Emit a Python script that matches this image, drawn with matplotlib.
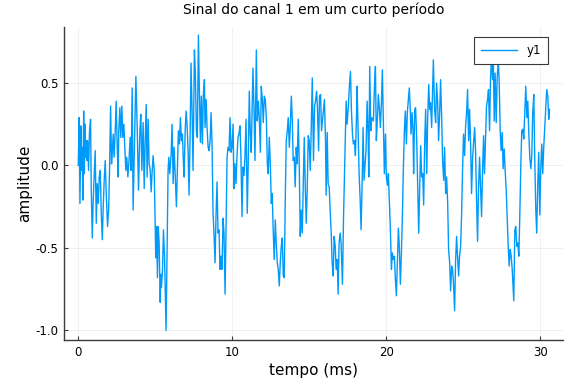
import matplotlib
matplotlib.use("Agg")
import matplotlib.pyplot as plt

# time (ms) and amplitude values
tempo = [
    0.00, 0.06, 0.11, 0.17, 0.22, 0.26, 0.30, 0.35, 0.39, 0.43, 0.48, 0.52, 0.56, 0.60, 0.67, 0.73, 0.80, 0.84, 0.91, 0.97,
    1.04, 1.10, 1.17, 1.23, 1.30, 1.36, 1.43, 1.49, 1.56, 1.62, 1.68, 1.75, 1.81, 1.90, 1.97, 2.03, 2.10, 2.16, 2.20, 2.27,
    2.33, 2.40, 2.46, 2.53, 2.59, 2.63, 2.70, 2.76, 2.83, 2.89, 2.96, 3.02, 3.09, 3.15, 3.22, 3.28, 3.37, 3.43, 3.50, 3.56,
    3.74, 3.83, 3.91, 4.00, 4.06, 4.13, 4.21, 4.28, 4.34, 4.41, 4.47, 4.54, 4.60, 4.67, 4.73, 4.80, 4.86, 4.93, 4.99, 5.03,
    5.08, 5.14, 5.19, 5.25, 5.32, 5.36, 5.40, 5.47, 5.53, 5.60, 5.70, 5.77, 5.83, 5.88, 5.94, 6.03, 6.09, 6.16, 6.22, 6.29,
    6.37, 6.44, 6.50, 6.57, 6.63, 6.70, 6.76, 6.83, 6.87, 6.94, 7.00, 7.06, 7.13, 7.19, 7.26, 7.32, 7.39, 7.45,
    7.54, 7.60, 7.67, 7.73, 7.80, 7.86, 7.93, 7.99, 8.06, 8.12, 8.19, 8.23, 8.30, 8.36, 8.43, 8.49, 8.56, 8.62, 8.68, 8.75,
    8.81, 8.88, 8.94, 9.01, 9.07, 9.14, 9.20, 9.27, 9.33, 9.40, 9.46, 9.53, 9.59, 9.66, 9.72, 9.79, 9.85, 9.92, 9.98, 10.05,
    10.11, 10.17, 10.24, 10.30, 10.37, 10.43, 10.50, 10.56, 10.63, 10.69, 10.76, 10.82, 10.89, 10.97, 11.04, 11.10, 11.17, 11.23,
    11.34, 11.41, 11.47, 11.56, 11.62, 11.69, 11.75, 11.82, 11.88, 11.95, 12.01, 12.08, 12.14, 12.21, 12.27, 12.33, 12.40, 12.46,
    12.53, 12.59, 12.66, 12.72, 12.79, 12.85, 12.92, 12.98, 13.05, 13.11, 13.18, 13.24, 13.31, 13.37, 13.44, 13.50, 13.57, 13.63,
    13.70, 13.76, 13.83, 13.89, 13.95, 14.02, 14.08, 14.15, 14.21, 14.28, 14.34, 14.41, 14.47, 14.54, 14.60, 14.67, 14.73, 14.80,
    14.86, 14.93, 14.99, 15.06, 15.12, 15.19,
    15.27, 15.34, 15.40, 15.47, 15.53, 15.60, 15.66, 15.73, 15.79, 15.85, 15.92, 15.98, 16.05, 16.09, 16.16, 16.22, 16.29, 16.35,
    16.42, 16.48, 16.55, 16.61, 16.68, 16.74, 16.81, 16.87, 16.93, 17.00, 17.06, 17.15, 17.22, 17.30, 17.39, 17.45, 17.52, 17.60,
    17.67, 17.73, 17.80, 17.86, 17.93, 17.99, 18.06, 18.10, 18.17, 18.23, 18.30, 18.36, 18.43, 18.49, 18.55, 18.62, 18.68, 18.75,
    18.81, 18.86, 18.92, 18.99, 19.05,
    19.16, 19.22, 19.29, 19.35, 19.42, 19.48, 19.55, 19.61, 19.68, 19.74, 19.81, 19.87, 19.94, 20.00, 20.07, 20.13, 20.20, 20.26,
    20.33, 20.39, 20.45, 20.52, 20.58, 20.65, 20.71, 20.78, 20.84, 20.91, 20.97, 21.04, 21.10, 21.17, 21.23, 21.30, 21.36, 21.43,
    21.49, 21.56, 21.60, 21.67, 21.73, 21.77, 21.84, 21.90, 21.97, 22.03, 22.10, 22.16, 22.23, 22.29, 22.36, 22.42, 22.49, 22.55,
    22.62, 22.68, 22.75, 22.81, 22.87,
    22.94, 23.05, 23.13, 23.20, 23.26, 23.33, 23.39, 23.46, 23.52, 23.59, 23.65, 23.72, 23.78, 23.85, 23.91, 23.98, 24.04, 24.11,
    24.17, 24.24, 24.30, 24.36, 24.43, 24.49, 24.56, 24.62, 24.69, 24.75, 24.82, 24.88, 24.95, 25.01, 25.08, 25.14, 25.21, 25.27,
    25.34, 25.40, 25.47, 25.53, 25.60, 25.66, 25.73, 25.79, 25.85, 25.92, 25.98, 26.05, 26.11, 26.18, 26.24, 26.31, 26.37, 26.44,
    26.50, 26.57, 26.63, 26.70, 26.76, 26.83,
    26.89, 26.94, 27.00, 27.06, 27.13, 27.19, 27.26, 27.32, 27.39, 27.45, 27.52, 27.58, 27.65, 27.71, 27.78, 27.84, 27.91, 27.97,
    28.04, 28.10, 28.17, 28.23, 28.27, 28.34, 28.40, 28.47, 28.53, 28.60, 28.66, 28.73, 28.79, 28.86, 28.92, 28.99, 29.05, 29.12,
    29.18, 29.24, 29.31, 29.38, 29.44, 29.50, 29.57, 29.63, 29.70, 29.76, 29.83, 29.89, 29.96, 30.02, 30.09, 30.15, 30.22, 30.28,
    30.35, 30.41, 30.48, 30.54, 30.59,
]

amplitude = [
    0.00, 0.29, -0.23, 0.24, -0.03, 0.11, -0.21, 0.33, -0.05, 0.25, 0.05, 0.15, 0.03, 0.15, -0.03, 0.21, 0.28, -0.13, -0.44, -0.21,
    -0.05, 0.09, -0.35, -0.11, -0.23, -0.07, -0.03, -0.28, -0.45, -0.25, -0.10, 0.03, -0.15, -0.37, -0.27, -0.03, 0.36, 0.01, 0.07, 0.19,
    0.05, 0.21, 0.39, 0.11, -0.07, 0.21, 0.35, 0.17, 0.36, 0.17, 0.25, 0.11, -0.03, 0.05, -0.07, 0.01, 0.17, -0.03, 0.47, -0.27,
    0.54, 0.21, -0.15, 0.21, 0.31, -0.03, 0.26, -0.14, 0.13, 0.37, -0.07, 0.28, 0.01, -0.03, -0.16, -0.03, 0.06, -0.03, -0.37, -0.56,
    -0.37, -0.68, -0.37, -0.47, -0.83, -0.66, -0.74, -0.63, -0.39, -0.55, -1.00, -0.49, -0.03, 0.05, -0.05, 0.07, 0.25, -0.11, 0.11, -0.05,
    -0.25, -0.01, 0.21, 0.13, 0.29, 0.15, 0.19, 0.01, -0.07, 0.21, 0.33, 0.25, 0.09, -0.18, 0.17, 0.62, 0.32, -0.03,
    0.70, 0.56, 0.21, 0.17, 0.79, 0.46, 0.14, 0.42, 0.13, 0.43, 0.52, 0.23, 0.40, 0.23, 0.11, 0.09, 0.15, 0.32, 0.15, -0.29,
    -0.41, -0.59, -0.31, -0.10, -0.41, -0.39, -0.63, -0.55, -0.63, -0.32, -0.41, -0.78, -0.39, 0.05, 0.11, 0.09, 0.29, 0.08, 0.11, 0.25,
    -0.14, 0.01, -0.11, 0.05, 0.17, 0.19, 0.24, 0.05, -0.31, -0.01, -0.06, 0.05, 0.28, -0.29, 0.05, 0.45, 0.19, 0.08,
    0.59, 0.34, 0.03, 0.70, 0.27, 0.39, 0.29, 0.08, 0.48, 0.40, 0.26, 0.42, 0.40, 0.29, 0.01, -0.05, 0.17, 0.03,
    -0.23, -0.17, -0.41, -0.57, -0.33, -0.47, -0.59, -0.63, -0.73, -0.59, -0.49, -0.44, -0.67, -0.68, -0.19, 0.15, 0.21, 0.29,
    0.11, 0.23, 0.42, 0.29, 0.03, 0.05, -0.13, 0.11, 0.01, 0.28, 0.03, -0.43, -0.27, -0.41, -0.15, 0.17, -0.11, -0.35,
    -0.15, 0.18, 0.15, -0.03, 0.21, 0.53,
    0.03, 0.36, 0.39, 0.45, 0.34, 0.09, 0.42, 0.43, 0.21, 0.27, 0.34, 0.40, 0.15, -0.18, 0.20, -0.11, -0.13, -0.27,
    -0.41, -0.59, -0.67, -0.43, -0.49, -0.63, -0.57, -0.78, -0.47, -0.41, -0.47, -0.72, -0.31, 0.03, 0.39, 0.25, 0.34, 0.48,
    0.57, 0.34, 0.19, 0.13, 0.15, 0.06, 0.29, 0.48, 0.19, -0.05, -0.21, -0.39, -0.09, 0.23, -0.09, 0.01, 0.09, 0.39,
    0.21, -0.07, 0.60, 0.21, 0.29,
    0.27, 0.46, 0.60, 0.15, 0.29, 0.43, 0.34, 0.23, 0.38, 0.58, 0.23, -0.05, 0.19, -0.07, -0.12, -0.05, -0.23, -0.39,
    -0.63, -0.53, -0.57, -0.55, -0.68, -0.79, -0.59, -0.38, -0.49, -0.72, -0.55, -0.31, -0.03, 0.21, 0.33, 0.13, 0.32, 0.40,
    0.47, 0.32, 0.19, 0.32, 0.21, -0.05, 0.34, 0.35, 0.15, -0.11, -0.41, -0.15, 0.12, -0.07, -0.05, -0.24, 0.15, 0.34,
    -0.05, 0.28, 0.49, 0.34, 0.38,
    0.23, 0.64, 0.34, 0.26, 0.50, 0.38, 0.15, 0.32, 0.52, 0.29, 0.03, -0.09, 0.11, -0.17, -0.07, -0.23, -0.51, -0.59,
    -0.76, -0.61, -0.63, -0.72, -0.88, -0.59, -0.43, -0.55, -0.67, -0.55, -0.49, -0.31, -0.01, 0.19, 0.06, 0.23, 0.32, 0.46,
    0.15, 0.34, 0.13, -0.17, 0.05, 0.13, 0.23, 0.09, -0.19, -0.46, -0.15, 0.05, -0.11, -0.31, -0.05, 0.18, -0.05, 0.17,
    0.36, 0.40, 0.46, 0.21, 0.52, 0.68,
    0.52, 0.66, 0.27, 0.56, 0.26, 0.52, 0.64, 0.52, 0.21, 0.09, 0.20, -0.02, 0.10, -0.03, -0.15, -0.31, -0.49, -0.61,
    -0.51, -0.55, -0.63, -0.74, -0.82, -0.39, -0.37, -0.49, -0.47, -0.55, -0.31, 0.01, 0.21, 0.22, 0.16, 0.34, 0.48, 0.29,
    0.39, 0.21, 0.05, -0.02, 0.06, 0.32, 0.43, 0.05, -0.27, -0.41, -0.11, 0.08, -0.30, -0.03, 0.13, -0.05, 0.12, 0.23,
    0.36, 0.46, 0.42, 0.28, 0.34,
]

xticks = [0, 10, 20, 30]
yticks = [-1.0, -0.5, 0.0, 0.5]
ytick_labels = ["-1.0", "-0.5", "0.0", "0.5"]

fig = plt.figure(figsize=(5.76, 3.84), dpi=100)
ax = fig.add_axes([0.111, 0.1146, 0.866, 0.8154])

ax.plot(tempo, amplitude, color="#009AFA", lw=1.0, label="y1", zorder=3)

ax.set_xlim(-0.93, 31.45)
ax.set_ylim(-1.058, 0.84)
ax.set_xticks(xticks)
ax.set_yticks(yticks)
ax.set_yticklabels(ytick_labels)

ax.grid(True, color="black", alpha=0.07, lw=0.6)
ax.set_axisbelow(True)
for s in ["top", "right"]:
    ax.spines[s].set_visible(False)
for s in ["left", "bottom"]:
    ax.spines[s].set_color("#3a3a3a")
    ax.spines[s].set_linewidth(1.0)
ax.tick_params(direction="in", length=3, width=0.8, color="#3a3a3a", labelsize=8.5, pad=4)

ax.set_title("Sinal do canal 1 em um curto período", fontsize=10, pad=9)
ax.set_xlabel("tempo (ms)", fontsize=11, labelpad=3)
ax.set_ylabel("amplitude", fontsize=11, labelpad=2)

leg = ax.legend(loc="upper right", bbox_to_anchor=(0.97, 0.968), borderaxespad=0,
                fancybox=False, edgecolor="#3a3a3a", framealpha=1, fontsize=8.5,
                handlelength=3.0, borderpad=0.6)
leg.get_frame().set_linewidth(0.8)

fig.savefig("out.png", dpi=100)
